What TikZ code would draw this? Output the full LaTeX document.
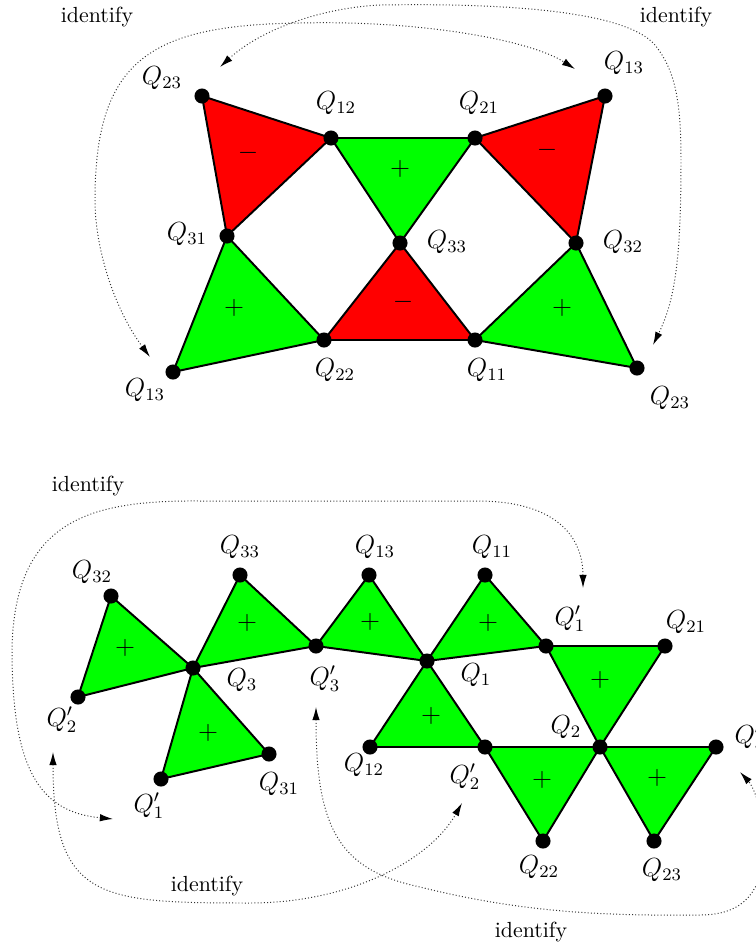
\documentclass[tikz,border=0pt]{standalone}
\usetikzlibrary{arrows.meta}
\pgfdeclarelayer{background}
\pgfsetlayers{background,main}
\begin{document}
\begin{tikzpicture}[x=0.457pt,y=-0.457pt,
  vtx/.style={circle,fill=black,inner sep=0pt,minimum size=6.9pt},
  redtri/.style={fill=red,draw=black,line width=0.9pt,line join=round},
  greentri/.style={fill=green,draw=black,line width=0.9pt,line join=round},
  lab/.style={font=\large,inner sep=0pt},
  sgn/.style={font=\large,inner sep=0pt},
  idtext/.style={inner sep=0pt},
  ident/.style={densely dotted,line width=0.45pt,draw=black!80,
    {Latex[length=6pt,width=3.4pt,black]}-{Latex[length=6pt,width=3.4pt,black]}}
]
\useasboundingbox (0,0) rectangle (756,946);

% ---------------- top diagram: vertices ----------------
\node[vtx] (t23a) at (202,96) {};
\node[vtx] (t12)  at (331,138) {};
\node[vtx] (t21)  at (475,138) {};
\node[vtx] (t13a) at (605,96) {};
\node[vtx] (t31)  at (227,236) {};
\node[vtx] (t33)  at (400,243) {};
\node[vtx] (t32)  at (576,243) {};
\node[vtx] (t13b) at (173,372) {};
\node[vtx] (t22)  at (324,340) {};
\node[vtx] (t11)  at (475,340) {};
\node[vtx] (t23b) at (637,368) {};

\begin{pgfonlayer}{background}
\filldraw[redtri]   (t23a.center) -- (t12.center) -- (t31.center) -- cycle;
\filldraw[greentri] (t12.center) -- (t21.center) -- (t33.center) -- cycle;
\filldraw[redtri]   (t21.center) -- (t13a.center) -- (t32.center) -- cycle;
\filldraw[greentri] (t31.center) -- (t22.center) -- (t13b.center) -- cycle;
\filldraw[redtri]   (t33.center) -- (t22.center) -- (t11.center) -- cycle;
\filldraw[greentri] (t32.center) -- (t11.center) -- (t23b.center) -- cycle;
\end{pgfonlayer}

\node[sgn] (ts1) at (248,153) {$-$};
\node[sgn] (ts2) at (400,169) {$+$};
\node[sgn] (ts3) at (547,150) {$-$};
\node[sgn] (ts4) at (234,308) {$+$};
\node[sgn] (ts5) at (403,302) {$-$};
\node[sgn] (ts6) at (562,308) {$+$};

\node[lab] (lt23a) at (162,78)  {$Q_{23}$};
\node[lab] (lt12)  at (336,103) {$Q_{12}$};
\node[lab] (lt21)  at (479,103) {$Q_{21}$};
\node[lab] (lt13a) at (624,63)  {$Q_{13}$};
\node[lab] (lt31)  at (187,234) {$Q_{31}$};
\node[lab] (lt33)  at (447,242) {$Q_{33}$};
\node[lab] (lt32)  at (623,242) {$Q_{32}$};
\node[lab] (lt13b) at (145,390) {$Q_{13}$};
\node[lab] (lt22)  at (335,370) {$Q_{22}$};
\node[lab] (lt11)  at (487,370) {$Q_{11}$};
\node[lab] (lt23b) at (670,398) {$Q_{23}$};

\node[idtext] (tid1) at (97,17)  {identify};
\node[idtext] (tid2) at (676,17) {identify};

\coordinate (ia1) at (150,357);
\coordinate (ia2) at (575,69);
\coordinate (ib1) at (220,67);
\coordinate (ib2) at (653,345);
\draw[ident] (ia1) .. controls (115,310) and (95,250) .. (95,200)
  .. controls (95,60) and (150,25) .. (300,23)
  .. controls (420,20) and (530,40) .. (ia2);
\draw[ident] (ib1) .. controls (260,30) and (320,8) .. (380,5)
  .. controls (500,3) and (625,10) .. (655,45)
  .. controls (675,70) and (681,100) .. (681,160)
  .. controls (681,260) and (675,300) .. (ib2);

% ---------------- bottom diagram: vertices ----------------
\node[vtx] (b32)  at (111,596) {};
\node[vtx] (b2pa) at (78,697) {};
\node[vtx] (b3)   at (193,668) {};
\node[vtx] (b33)  at (240,575) {};
\node[vtx] (b3p)  at (316,646) {};
\node[vtx] (b1pa) at (161,779) {};
\node[vtx] (b31)  at (269,754) {};
\node[vtx] (b13)  at (369,575) {};
\node[vtx] (b12)  at (370,747) {};
\node[vtx] (b11)  at (485,575) {};
\node[vtx] (b1)   at (427,661) {};
\node[vtx] (b1pb) at (546,646) {};
\node[vtx] (b21)  at (665,646) {};
\node[vtx] (b2)   at (600,747) {};
\node[vtx] (b2pb) at (485,747) {};
\node[vtx] (b3pb) at (716,747) {};
\node[vtx] (b22)  at (543,841) {};
\node[vtx] (b23)  at (654,841) {};

\begin{pgfonlayer}{background}
\filldraw[greentri] (b32.center) -- (b2pa.center) -- (b3.center) -- cycle;
\filldraw[greentri] (b3.center) -- (b33.center) -- (b3p.center) -- cycle;
\filldraw[greentri] (b3.center) -- (b1pa.center) -- (b31.center) -- cycle;
\filldraw[greentri] (b3p.center) -- (b13.center) -- (b1.center) -- cycle;
\filldraw[greentri] (b1.center) -- (b11.center) -- (b1pb.center) -- cycle;
\filldraw[greentri] (b1.center) -- (b12.center) -- (b2pb.center) -- cycle;
\filldraw[greentri] (b1pb.center) -- (b21.center) -- (b2.center) -- cycle;
\filldraw[greentri] (b2pb.center) -- (b2.center) -- (b22.center) -- cycle;
\filldraw[greentri] (b2.center) -- (b3pb.center) -- (b23.center) -- cycle;
\end{pgfonlayer}

\node[sgn] (bs1) at (125,648) {$+$};
\node[sgn] (bs2) at (247,623) {$+$};
\node[sgn] (bs3) at (208,733) {$+$};
\node[sgn] (bs4) at (370,622) {$+$};
\node[sgn] (bs5) at (488,623) {$+$};
\node[sgn] (bs6) at (431,716) {$+$};
\node[sgn] (bs7) at (600,680) {$+$};
\node[sgn] (bs8) at (542,780) {$+$};
\node[sgn] (bs9) at (657,778) {$+$};

\node[lab] (lb32)  at (92,572)  {$Q_{32}$};
\node[lab] (lb33)  at (240,547) {$Q_{33}$};
\node[lab] (lb13)  at (375,547) {$Q_{13}$};
\node[lab] (lb11)  at (492,547) {$Q_{11}$};
\node[lab] (lb3)   at (242,680) {$Q_3$};
\node[lab] (lb3p)  at (325,679) {$Q'_3$};
\node[lab] (lb2pa) at (62,720)  {$Q'_2$};
\node[lab] (lb1pa) at (149,806) {$Q'_1$};
\node[lab] (lb31)  at (279,784) {$Q_{31}$};
\node[lab] (lb12)  at (364,765) {$Q_{12}$};
\node[lab] (lb1)   at (476,675) {$Q_1$};
\node[lab] (lb1pb) at (570,619) {$Q'_1$};
\node[lab] (lb21)  at (686,622) {$Q_{21}$};
\node[lab] (lb2)   at (566,727) {$Q_2$};
\node[lab] (lb2pb) at (465,777) {$Q'_2$};
\node[lab] (lb22)  at (539,867) {$Q_{22}$};
\node[lab] (lb23)  at (662,870) {$Q_{23}$};
\node[lab] (lb3pb) at (750,737) {$Q'_3$};

\node[idtext] (bid1) at (88,486)  {identify};
\node[idtext] (bid2) at (207,886) {identify};
\node[idtext] (bid3) at (531,932) {identify};

\coordinate (ic1) at (583,588);
\coordinate (ic2) at (113,819);
\coordinate (id1) at (53,752);
\coordinate (id2) at (462,803);
\coordinate (ie1) at (316,707);
\coordinate (ie2) at (740,772);
\draw[ident] (ic1) .. controls (583,540) and (560,502) .. (480,501)
  -- (200,501)
  .. controls (90,500) and (14,520) .. (12,650)
  .. controls (12,770) and (40,812) .. (ic2);
\draw[ident] (id1) .. controls (53,900) and (100,903) .. (250,903)
  .. controls (350,903) and (430,860) .. (id2);
\draw[ident] (ie1) .. controls (316,830) and (340,870) .. (420,887)
  .. controls (520,912) and (600,916) .. (700,915)
  .. controls (745,915) and (762,890) .. (764,850)
  .. controls (765,810) and (752,785) .. (ie2);
\end{tikzpicture}
\end{document}
